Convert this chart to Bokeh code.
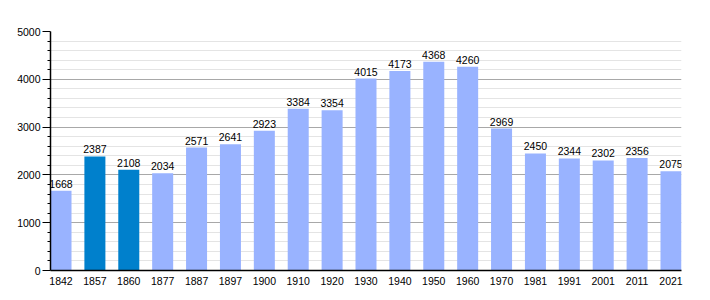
from bokeh.plotting import figure
from bokeh.models import ColumnDataSource, FixedTicker, Range1d, LabelSet
from bokeh.core.properties import value
from bokeh.embed import file_html
from bokeh.resources import INLINE

years = ["1842", "1857", "1860", "1877", "1887", "1897", "1900", "1910", "1920", "1930",
         "1940", "1950", "1960", "1970", "1981", "1991", "2001", "2011", "2021"]
population = [1668, 2387, 2108, 2034, 2571, 2641, 2923, 3384, 3354, 4015,
              4173, 4368, 4260, 2969, 2450, 2344, 2302, 2356, 2075]
highlight = ["1857", "1860"]
y_ticks = [0, 1000, 2000, 3000, 4000, 5000]

LIGHT = "#99b3ff"
DARK = "#0080cc"

xs = list(range(len(years)))
colors = [DARK if y in highlight else LIGHT for y in years]
labels = [str(v) for v in population]
src = ColumnDataSource(dict(x=xs, top=population, color=colors, label=labels))

p = figure(width=710, height=300, output_backend="svg", toolbar_location=None,
           x_range=Range1d(-0.31, len(years) - 1 + 0.31), y_range=Range1d(0, 5000),
           min_border_left=50, min_border_right=29, min_border_top=31, min_border_bottom=30)
p.frame_width = 631
p.frame_height = 239
p.outline_line_color = None
p.background_fill_color = "white"
p.border_fill_color = "white"

p.vbar(x="x", top="top", width=0.62, bottom=0, color="color", line_color=None, source=src)
lbl = LabelSet(x="x", y="top", text="label", source=src, text_align="center",
               text_baseline="bottom", y_offset=3, text_font_size=value("10.5px"),
               text_color=value("black"), text_font=value("Liberation Sans"), level="overlay")
p.add_layout(lbl)

# x axis
p.xaxis.ticker = FixedTicker(ticks=xs)
p.xaxis.major_label_overrides = {i: y for i, y in enumerate(years)}
p.xaxis.major_tick_line_color = None
p.xaxis.minor_tick_line_color = None
p.xaxis.axis_line_color = "black"
p.xaxis.axis_line_width = 1.5
p.xaxis.major_label_text_font = "Liberation Sans"
p.xaxis.major_label_text_font_size = "10.5px"
p.xaxis.major_label_text_color = "black"
p.xaxis.major_label_standoff = 0
p.xgrid.grid_line_color = None

# y axis
minor = [v for v in range(0, 5001, 200) if v % 1000 != 0]
p.yaxis.ticker = FixedTicker(ticks=y_ticks, minor_ticks=minor)
p.yaxis.axis_line_color = "black"
p.yaxis.axis_line_width = 1.5
p.yaxis.major_tick_out = 8
p.yaxis.major_tick_in = 0
p.yaxis.minor_tick_out = 3
p.yaxis.minor_tick_in = 0
p.yaxis.major_tick_line_color = "black"
p.yaxis.minor_tick_line_color = "black"
p.yaxis.major_label_text_font = "Liberation Sans"
p.yaxis.major_label_text_font_size = "10.5px"
p.yaxis.major_label_text_color = "black"
p.yaxis.major_label_standoff = 2
p.ygrid.grid_line_color = "#a8a8a8"
p.ygrid.minor_grid_line_color = "#e4e4e4"

open("out.html", "w").write(file_html(p, INLINE))
